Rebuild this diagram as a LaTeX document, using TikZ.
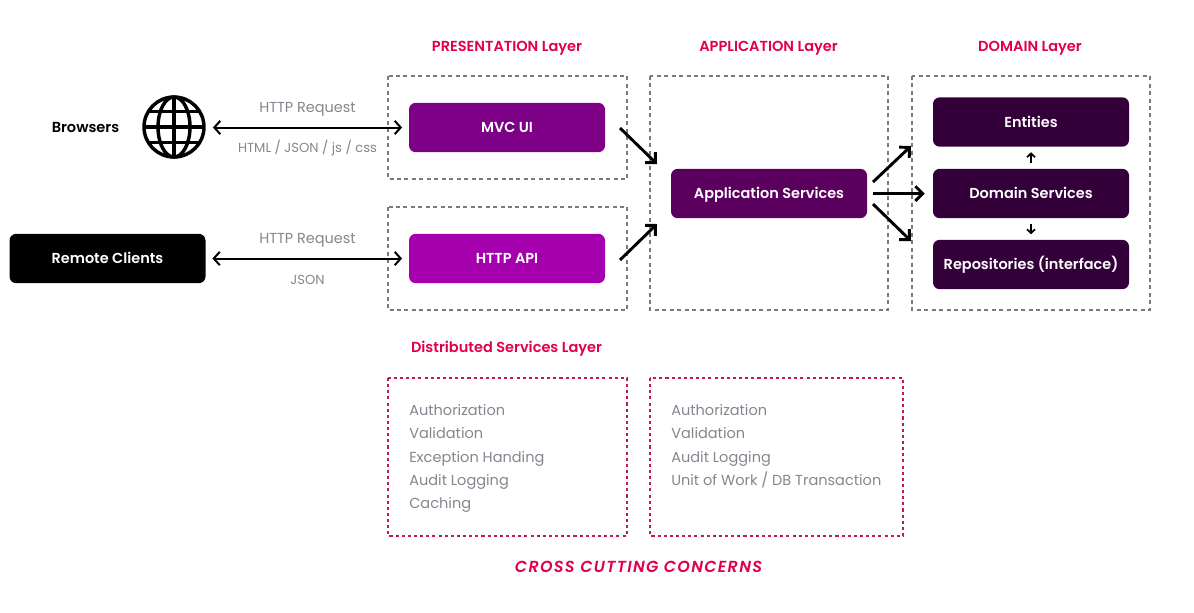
\documentclass[tikz,border=0pt]{standalone}
\usepackage{fontspec}
\setmainfont{Poppins}
\newfontfamily\semi{Poppins}[UprightFont=* SemiBold,ItalicFont=* SemiBold Italic]
\usetikzlibrary{arrows.meta}
\definecolor{headred}{HTML}{E0004D}
\definecolor{softgrey}{HTML}{85858F}
\definecolor{layergrey}{HTML}{7A7A7A}
\definecolor{dotred}{HTML}{C2185B}
\definecolor{mvcfill}{HTML}{7D0087}
\definecolor{apifill}{HTML}{A600AE}
\definecolor{appfill}{HTML}{5C0060}
\definecolor{domfill}{HTML}{33003A}
\tikzset{
    level text/.style={text height=7.8pt, text depth=0pt},
    block/.style={rounded corners=5pt, minimum width=147pt, minimum height=37pt, inner sep=0pt, text=white, level text, font=\semi\fontsize{10.85}{12}\selectfont},
    layerbox/.style={draw=layergrey, line width=0.9pt, dash pattern=on 3pt off 2.6pt},
    crossbox/.style={draw=dotred, line width=1.1pt, dash pattern=on 2.3pt off 2.3pt},
    head/.style={text=headred, level text, font=\semi\fontsize{10.9}{12}\selectfont},
    note/.style={text=softgrey, level text, font=\fontsize{10.85}{12}\selectfont},
    tiny note/.style={text=softgrey, level text, font=\fontsize{9.85}{12}\selectfont},
    item/.style={text=softgrey, anchor=west, inner sep=0pt, level text, font=\fontsize{10.9}{12}\selectfont},
    link/.style={{Straight Barb[length=4.5pt,width=10pt]}-{Straight Barb[length=4.5pt,width=10pt]}, line width=1.5pt, black},
    flow/.style={-{Straight Barb[length=5.5pt,width=11pt]}, line width=2.2pt, black},
    small flow/.style={-{Straight Barb[length=2.8pt,width=6pt]}, line width=1.3pt, black}
}
\begin{document}
\begin{tikzpicture}[x=0.75pt, y=-0.75pt]
        \useasboundingbox (0,0) rectangle (1194,612);

        % layers
        \draw[layerbox] (388,76) rectangle (627,179);
        \draw[layerbox] (388,207) rectangle (627,310);
        \draw[layerbox] (650,76) rectangle (888,310);
        \draw[layerbox] (912,76) rectangle (1150,310);
        \draw[crossbox] (388,378) rectangle (627,536);
        \draw[crossbox] (650,378) rectangle (903,536);

        \node[head](head-pres) at (507,46) {PRESENTATION Layer};
        \node[head](head-app) at (768.5,46) {APPLICATION Layer};
        \node[head](head-dom) at (1030,46) {DOMAIN Layer};
        \node[head](head-dist) at (506.5,347) {Distributed Services Layer};
        \node[level text, text=headred, font=\semi\itshape\fontsize{12}{14}\selectfont\addfontfeature{LetterSpace=8}](head-cross) at (638.5,567) {CROSS CUTTING CONCERNS};

        % clients
        \node[level text, font=\semi\fontsize{10.9}{12}\selectfont](browsers) at (85.5,127) {Browsers};
        \node[circle, minimum size=48pt, inner sep=0pt](globe) at (174,127) {};
        \begin{scope}[line width=2.6pt]
            \draw (globe.center) circle (30);
            \draw (globe.center) ellipse (16 and 30);
            \draw (144,127) -- (204,127);
            \draw (174,97) -- (174,157);
            \draw (148,111.5) -- (200,111.5);
            \draw (148,142.5) -- (200,142.5);
        \end{scope}
        \node[block, fill=black](remote) at (107.5,258.5) {Remote Clients};

        % blocks
        \node[block, fill=mvcfill](mvc) at (507,127.5) {MVC UI};
        \node[block, fill=apifill](api) at (507,258.5) {HTTP API};
        \node[block, fill=appfill](app) at (769,193.5) {Application Services};
        \node[block, fill=domfill](entities) at (1031,122) {Entities};
        \node[block, fill=domfill](domain) at (1031,193.5) {Domain Services};
        \node[block, fill=domfill](repos) at (1031,264.5) {Repositories (interface)};

        % connectors
        \draw[link, shorten <=5pt, shorten >=5pt] (globe.east |- mvc.west) -- (mvc.west);
        \draw[link, shorten <=5pt, shorten >=5pt] (remote.east) -- (api.west);
        \node[note](req-a) at (307.5,107) {HTTP Request};
        \node[tiny note](res-a) at (307.5,147) {HTML / JSON / js / css};
        \node[note](req-b) at (307.5,238) {HTTP Request};
        \node[tiny note](res-b) at (307.5,279) {JSON};

        \coordinate (mvc-out) at (620,128);
        \coordinate (app-in-a) at (657,164);
        \coordinate (api-out) at (620,260);
        \coordinate (app-in-b) at (657,224);
        \coordinate (app-out-a) at (873,182);
        \coordinate (dom-in-a) at (911,146);
        \coordinate (app-out-b) at (873,204);
        \coordinate (dom-in-b) at (911,241);
        \draw[flow] (mvc-out) -- (app-in-a);
        \draw[flow] (api-out) -- (app-in-b);
        \draw[flow] (app-out-a) -- (dom-in-a);
        \draw[flow, shorten <=4.5pt, shorten >=6pt] (app.east) -- (domain.west);
        \draw[flow] (app-out-b) -- (dom-in-b);
        \draw[small flow, shorten <=4pt, shorten >=4pt] (domain.north) -- (entities.south);
        \draw[small flow, shorten <=4pt, shorten >=4pt] (domain.south) -- (repos.north);

        % concerns
        \foreach \txt [count=\n] in {Authorization,Validation,Exception Handing,Audit Logging,Caching} {
                \node[item](left-\n) at (409,{386.7+23.4*\n}) {\txt};
            }
        \foreach \txt [count=\n] in {Authorization,Validation,Audit Logging,Unit of Work / DB Transaction} {
                \node[item](right-\n) at (671,{386.7+23.4*\n}) {\txt};
            }
    \end{tikzpicture}
\end{document}
